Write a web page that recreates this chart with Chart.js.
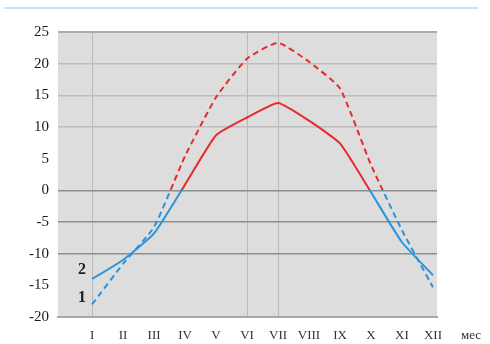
<!DOCTYPE html>
<html>
<head>
<meta charset="utf-8">
<script src="https://cdn.jsdelivr.net/npm/chart.js@4"></script>
<style>
html,body{margin:0;padding:0;background:#fff;}
#wrap{width:490px;height:344px;position:relative;}
</style>
</head>
<body>
<div id="wrap"><canvas id="c" width="490" height="344"></canvas></div>
<script>
// ---- data ----
const months = [1,2,3,4,5,6,7,8,9,10,11,12];
const monthLabels = ['I','II','III','IV','V','VI','VII','VIII','IX','X','XI','XII'];
const unitLabel = 'мес';
const series1 = [-18, -11.6, -5.8, 5.4, 14.7, 20.8, 23.3, 20.3, 16.1, 4, -6.3, -15.3];
const series2 = [-14, -11, -6.8, 0.9, 8.7, 11.5, 13.8, 11, 7.4, -0.3, -8.2, -13.4];
const seriesNames = ['1', '2'];
const yTicks = [25, 20, 15, 10, 5, 0, -5, -10, -15, -20];

const RED = '#e82a2a';
const BLUE = '#2b93dc';

function signGradient(ctx) {
  const chart = ctx.chart;
  const area = chart.chartArea;
  if (!area) return RED;
  const y0 = chart.scales.y.getPixelForValue(0);
  const g = chart.ctx.createLinearGradient(0, area.top, 0, area.bottom);
  const s = Math.min(1, Math.max(0, (y0 - area.top) / (area.bottom - area.top)));
  g.addColorStop(0, RED);
  g.addColorStop(s, RED);
  g.addColorStop(s, BLUE);
  g.addColorStop(1, BLUE);
  return g;
}

const toPts = arr => arr.map((v, i) => ({x: months[i], y: v}));

const decor = {
  id: 'decor',
  beforeDraw(chart) {
    const {ctx, chartArea: a} = chart;
    ctx.save();
    ctx.fillStyle = '#dddddd';
    ctx.fillRect(a.left, a.top, a.right - a.left, a.bottom - a.top);
    // top light-blue line
    ctx.fillStyle = '#c9e4f4';
    ctx.fillRect(4, 7, 474, 2);
    ctx.restore();
  },
  afterDraw(chart) {
    const {ctx} = chart;
    const xs = chart.scales.x, ys = chart.scales.y;
    ctx.save();
    ctx.fillStyle = '#222';
    ctx.font = 'bold 16px "Liberation Serif"';
    ctx.textAlign = 'center';
    ctx.textBaseline = 'middle';
    const x1 = xs.getPixelForValue(months[0]) - 10;
    ctx.fillText(seriesNames[0], x1, ys.getPixelForValue(series1[0]) - 6);
    ctx.fillText(seriesNames[1], x1, ys.getPixelForValue(series2[0]) - 9);
    ctx.font = '13px "Liberation Serif"';
    ctx.fillStyle = '#333';
    ctx.fillText(unitLabel, xs.getPixelForValue(12) + 38, 336);
    ctx.restore();
  }
};

new Chart(document.getElementById('c'), {
  type: 'line',
  data: {
    datasets: [
      {label: seriesNames[0], data: toPts(series1), borderColor: signGradient, borderWidth: 2, borderDash: [6, 4], pointRadius: 0, tension: 0.15, fill: false},
      {label: seriesNames[1], data: toPts(series2), borderColor: signGradient, borderWidth: 2, pointRadius: 0, tension: 0.15, fill: false}
    ]
  },
  plugins: [decor],
  options: {
    responsive: false,
    animation: false,
    events: [],
    layout: {padding: {left: 0, top: 32, right: 53, bottom: 0}},
    plugins: {legend: {display: false}, tooltip: {enabled: false}},
    scales: {
      x: {
        type: 'linear',
        min: -0.1,
        max: 12.13,
        afterBuildTicks: s => { s.ticks = months.map(v => ({value: v})); },
        afterFit: s => { s.height = 27; },
        ticks: {
          autoSkip: false, maxRotation: 0, padding: 11,
          color: '#333',
          font: {family: '"Liberation Serif"', size: 13},
          callback: v => monthLabels[months.indexOf(v)] || ''
        },
        grid: {
          drawTicks: false,
          lineWidth: 1,
          color: c => (c.tick && [1, 6, 7].includes(c.tick.value)) ? '#b9b9b9' : 'rgba(0,0,0,0)'
        },
        border: {display: true, color: '#a8a8a8', width: 2}
      },
      y: {
        min: -20,
        max: 25,
        afterBuildTicks: s => { s.ticks = yTicks.map(v => ({value: v})); },
        afterFit: s => { s.width = 58; },
        ticks: {
          padding: 9,
          color: '#1a1a1a',
          font: {family: '"Liberation Serif"', size: 15},
          callback: v => String(v)
        },
        grid: {
          drawTicks: false,
          lineWidth: c => (c.tick && c.tick.value === 25) ? 2 : 1.5,
          color: c => {
            const v = c.tick ? c.tick.value : null;
            if (v === 0 || v === -5 || v === -10) return '#8e8e8e';
            if (v === 10 || v === 15 || v === 20) return '#bdbdbd';
            if (v === 25) return '#ababab';
            return 'rgba(0,0,0,0)';
          }
        },
        border: {display: false}
      }
    }
  }
});
</script>
</body>
</html>
